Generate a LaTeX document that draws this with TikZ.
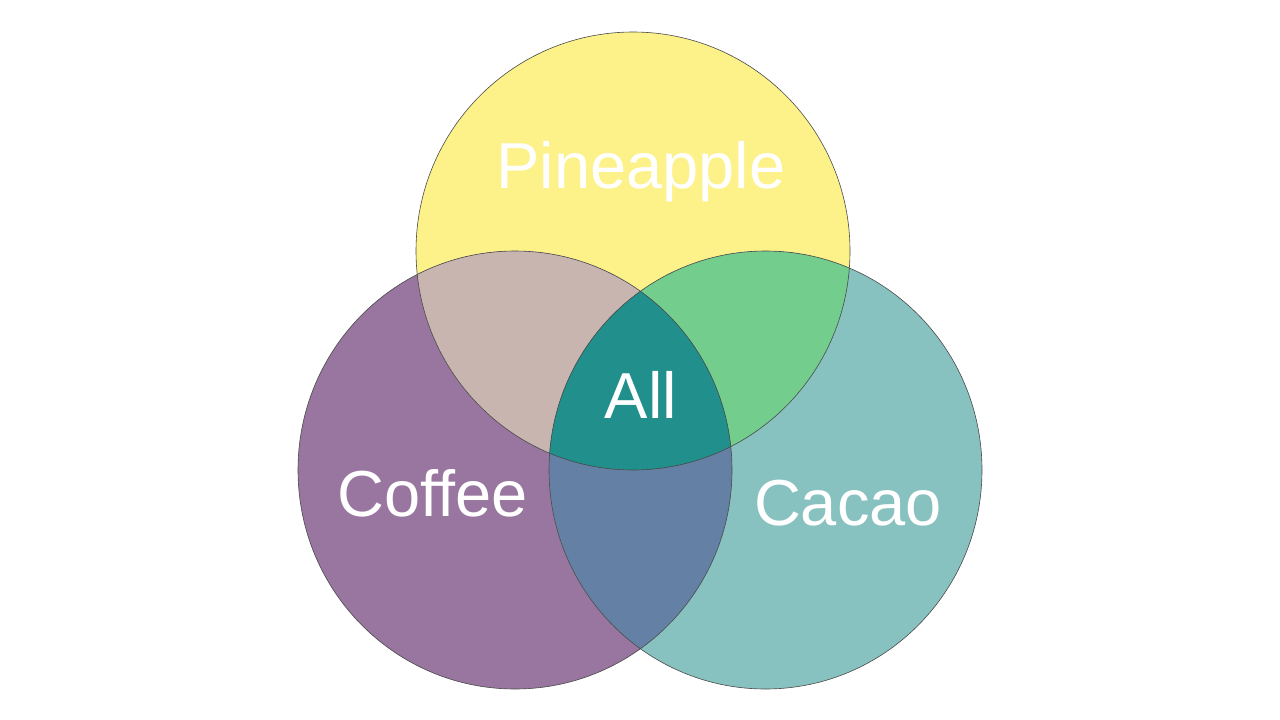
\documentclass[tikz,border=0pt]{standalone}
\usepackage{fontspec}
\setmainfont{Liberation Sans}
\definecolor{cYellow}{HTML}{FDF18A}
\definecolor{cPurple}{HTML}{98769F}
\definecolor{cTeal}{HTML}{88C2C0}
\definecolor{cBeige}{HTML}{C8B5B0}
\definecolor{cGreen}{HTML}{73CD8D}
\definecolor{cBlue}{HTML}{6481A5}
\definecolor{cCenter}{HTML}{218F8B}
\definecolor{cEdge}{HTML}{4A4A4A}
\begin{document}
\begin{tikzpicture}[x=1pt,y=-1pt,
  setlabel/.style={text=white,inner sep=0pt,anchor=base,font=\fontsize{65}{78}\selectfont},
  setedge/.style={draw=cEdge,line width=0.6pt}]
\useasboundingbox (0,0) rectangle (1280,720);
\fill[white] (0,0) rectangle (1280,720);
\def\circA{(633,251) ellipse [x radius=217,y radius=219]}
\def\circB{(515,470) ellipse [x radius=217,y radius=219]}
\def\circC{(765.5,470) ellipse [x radius=216.5,y radius=219]}
% single sets
\fill[cYellow] \circA;
\fill[cPurple] \circB;
\fill[cTeal] \circC;
% pairwise overlaps
\begin{scope}
  \clip \circA;
  \fill[cBeige] \circB;
  \fill[cGreen] \circC;
\end{scope}
\begin{scope}
  \clip \circB;
  \fill[cBlue] \circC;
\end{scope}
% triple overlap
\begin{scope}
  \clip \circA;
  \clip \circB;
  \fill[cCenter] \circC;
\end{scope}
% outlines
\draw[setedge] \circA;
\draw[setedge] \circB;
\draw[setedge] \circC;
% labels
\node[setlabel] (pine) at (641,188) {Pineapple};
\node[setlabel] (all) at (641,418) {All};
\node[setlabel] (coffee) at (432.5,516) {Coffee};
\node[setlabel] (cacao) at (848,525) {Cacao};
\end{tikzpicture}
\end{document}
